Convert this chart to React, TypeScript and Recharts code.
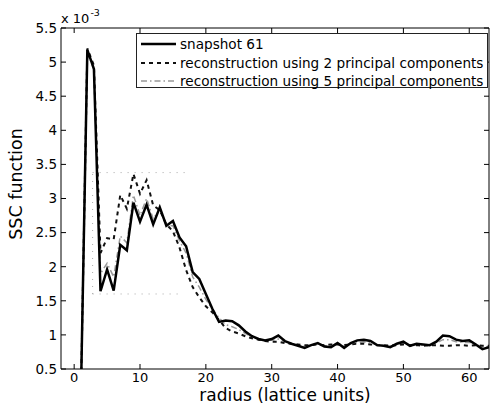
import React from 'react';
import { LineChart, Line, XAxis, YAxis, Legend, ReferenceArea, ReferenceLine, Label } from 'recharts';

// radius in lattice units
const radius = [
  1, 2, 3, 4, 5, 6, 7, 8, 9, 10, 11, 12, 13, 14, 15, 16, 17, 18, 19, 20, 21,
  22, 23, 24, 25, 26, 27, 28, 29, 30, 31, 32, 33, 34, 35, 36, 37, 38, 39, 40, 41, 42,
  43, 44, 45, 46, 47, 48, 49, 50, 51, 52, 53, 54, 55, 56, 57, 58, 59, 60, 61, 62, 63,
];

// SSC function values, x 10^-3
const snapshot61 = [
  0.0, 5.18, 4.9, 1.64, 1.96, 1.65, 2.32, 2.24, 2.94, 2.66, 2.91, 2.62, 2.87, 2.6, 2.67, 2.43, 2.3, 1.92, 1.82, 1.6, 1.38,
  1.19, 1.21, 1.2, 1.14, 1.05, 0.98, 0.94, 0.92, 0.94, 0.99, 0.91, 0.87, 0.84, 0.81, 0.85, 0.88, 0.83, 0.82, 0.88, 0.81, 0.88,
  0.92, 0.93, 0.91, 0.85, 0.84, 0.82, 0.87, 0.9, 0.84, 0.87, 0.86, 0.85, 0.9, 0.99, 0.98, 0.93, 0.91, 0.92, 0.86, 0.79, 0.82,
];

const recon2pc = [
  0.0, 5.2, 4.95, 2.2, 2.42, 2.4, 3.05, 2.85, 3.36, 3.07, 3.27, 2.9, 2.83, 2.62, 2.52, 2.28, 1.95, 1.7, 1.55, 1.42, 1.33,
  1.22, 1.1, 1.05, 1.02, 0.98, 0.95, 0.93, 0.91, 0.9, 0.9, 0.88, 0.87, 0.86, 0.85, 0.85, 0.86, 0.85, 0.86, 0.86, 0.85, 0.86,
  0.87, 0.87, 0.86, 0.85, 0.85, 0.84, 0.85, 0.86, 0.85, 0.85, 0.84, 0.85, 0.85, 0.84, 0.84, 0.85, 0.85, 0.84, 0.85, 0.84, 0.84,
];

const recon5pc = [
  0.0, 5.15, 4.88, 1.9, 2.05, 1.85, 2.45, 2.35, 3.05, 2.75, 3.0, 2.7, 2.85, 2.6, 2.6, 2.38, 2.2, 1.85, 1.7, 1.52, 1.38,
  1.25, 1.15, 1.12, 1.08, 1.02, 0.97, 0.94, 0.92, 0.92, 0.94, 0.9, 0.87, 0.85, 0.83, 0.85, 0.87, 0.84, 0.84, 0.87, 0.83, 0.87,
  0.89, 0.9, 0.89, 0.85, 0.84, 0.83, 0.86, 0.88, 0.85, 0.86, 0.85, 0.85, 0.88, 0.93, 0.93, 0.9, 0.89, 0.89, 0.86, 0.82, 0.83,
];

const xTicks = [0, 10, 20, 30, 40, 50, 60];
const yTicks = [0.5, 1, 1.5, 2, 2.5, 3, 3.5, 4, 4.5, 5, 5.5];

const legendLabels = [
  'snapshot 61',
  'reconstruction using 2 principal components',
  'reconstruction using 5 principal components',
];

const chartData = radius.map((r, i) => ({
  r,
  s61: snapshot61[i],
  pc2: recon2pc[i],
  pc5: recon5pc[i],
}));

// plot box (MATLAB style frame with inward ticks)
const LEFT = 61;
const RIGHT = 489;
const TOP = 28;
const BOTTOM = 369;
const FONT = '"DejaVu Sans", sans-serif';

const YTick = (props: any) => {
  const { y, payload } = props;
  return (
    <g>
      <text x={LEFT - 4} y={y} dy="0.36em" textAnchor="end" fontSize={13.5} fontFamily={FONT} fill="#000">
        {String(payload.value)}
      </text>
      <line x1={LEFT} x2={LEFT + 5} y1={y} y2={y} stroke="#000" />
      <line x1={RIGHT - 5} x2={RIGHT} y1={y} y2={y} stroke="#000" />
    </g>
  );
};

const XTick = (props: any) => {
  const { x, payload } = props;
  return (
    <g>
      <text x={x} y={382} textAnchor="middle" fontSize={13} fontFamily={FONT} fill="#000">
        {String(payload.value)}
      </text>
      <line x1={x} x2={x} y1={BOTTOM} y2={BOTTOM - 5} stroke="#000" />
      <line x1={x} x2={x} y1={TOP} y2={TOP + 5} stroke="#000" />
    </g>
  );
};

const legendStyles = [
  { stroke: '#000', width: 2.5, dash: undefined },
  { stroke: '#111', width: 2, dash: '4 4' },
  { stroke: '#999', width: 1.5, dash: '6 3 1.5 3' },
];

const renderLegend = () => (
  <div
    style={{
      width: 352,
      height: 55,
      boxSizing: 'border-box',
      border: '1px solid #222',
      background: '#fff',
      fontFamily: FONT,
      fontSize: 13.6,
      color: '#000',
      paddingTop: 1,
    }}
  >
    {legendLabels.map((label, i) => (
      <div key={i} style={{ display: 'flex', alignItems: 'center', height: 18.5, whiteSpace: 'nowrap' }}>
        <svg width={40} height={10} style={{ marginLeft: 3, flexShrink: 0 }}>
          <line
            x1={1}
            x2={36}
            y1={5}
            y2={5}
            stroke={legendStyles[i].stroke}
            strokeWidth={legendStyles[i].width}
            strokeDasharray={legendStyles[i].dash}
          />
        </svg>
        <span>{label}</span>
      </div>
    ))}
  </div>
);

export default function App() {
  return (
    <div style={{ position: 'absolute', left: 0, top: 0, width: 491, height: 408, background: '#fff' }}>
      <LineChart width={491} height={408} data={chartData} margin={{ top: TOP, right: 491 - RIGHT, left: 0, bottom: 0 }}>
        <XAxis
          dataKey="r"
          type="number"
          domain={[-2, 63]}
          ticks={xTicks}
          allowDataOverflow
          height={408 - BOTTOM}
          axisLine={false}
          tickLine={false}
          tick={<XTick />}
          interval={0}
        >
          <Label
            content={() => (
              <text x={285} y={401} textAnchor="middle" fontSize={17} fontFamily={FONT} fill="#000">
                radius (lattice units)
              </text>
            )}
          />
        </XAxis>
        <YAxis
          type="number"
          domain={[0.5, 5.5]}
          ticks={yTicks}
          allowDataOverflow
          width={LEFT}
          axisLine={false}
          tickLine={false}
          tick={<YTick />}
          interval={0}
        >
          <Label
            content={() => (
              <text
                x={22}
                y={184}
                transform="rotate(-90 22 184)"
                textAnchor="middle"
                fontSize={17.5}
                fontFamily={FONT}
                fill="#000"
              >
                SSC function
              </text>
            )}
          />
          <Label
            content={() => (
              <text x={61} y={23} fontSize={13} fontFamily={FONT} fill="#000">
                x 10
                <tspan dx={1} dy={-7} fontSize={9.5}>-3</tspan>
              </text>
            )}
          />
        </YAxis>
        <ReferenceArea x1={-2} x2={63} y1={0.5} y2={5.5} fill="none" stroke="#000" strokeWidth={1} />
        <ReferenceLine segment={[{ x: 2.8, y: 3.38 }, { x: 17.3, y: 3.38 }]} stroke="#aaa" strokeDasharray="1 6" />
        <ReferenceLine segment={[{ x: 2.8, y: 1.6 }, { x: 16.5, y: 1.6 }]} stroke="#aaa" strokeDasharray="1 6" />
        <ReferenceLine segment={[{ x: 2.8, y: 1.6 }, { x: 2.8, y: 3.38 }]} stroke="#aaa" strokeDasharray="1 6" />
        <Legend
          layout="vertical"
          align="center"
          verticalAlign="middle"
          content={renderLegend}
          wrapperStyle={{ position: 'absolute', left: 136, top: 33, width: 352, height: 55 }}
        />
        <Line
          dataKey="pc5"
          name={legendLabels[2]}
          stroke="#999"
          strokeWidth={1.5}
          strokeDasharray="6 3 1.5 3"
          dot={false}
          isAnimationActive={false}
        />
        <Line
          dataKey="pc2"
          name={legendLabels[1]}
          stroke="#111"
          strokeWidth={2}
          strokeDasharray="4 4"
          dot={false}
          isAnimationActive={false}
        />
        <Line
          dataKey="s61"
          name={legendLabels[0]}
          stroke="#000"
          strokeWidth={2.5}
          dot={false}
          isAnimationActive={false}
        />
      </LineChart>
    </div>
  );
}
